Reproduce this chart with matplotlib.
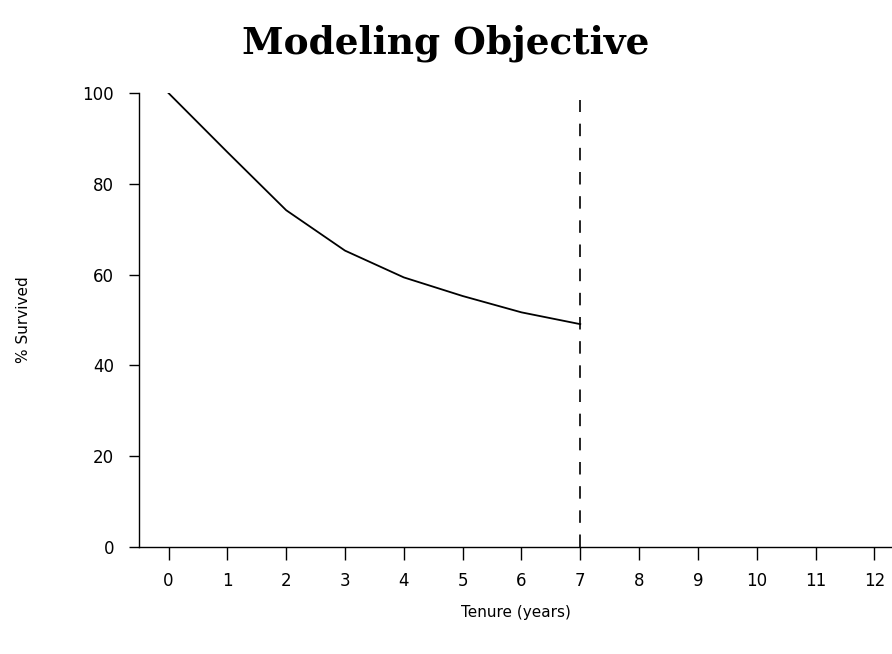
import matplotlib
matplotlib.use("Agg")
import matplotlib.pyplot as plt

# survival curve
tenure = [0, 1, 2, 3, 4, 5, 6, 7]
survived = [100, 87, 74.2, 65.3, 59.4, 55.3, 51.7, 49.1]
xticks = list(range(13))
yticks = [0, 20, 40, 60, 80, 100]
cutoff = 7

fig = plt.figure(figsize=(8.92, 6.54), dpi=100)
ax = fig.add_axes([0.156, 0.1636, 0.844, 0.694])

ax.plot(tenure, survived, color="black", lw=1.3)
ax.plot([cutoff, cutoff], [0, 98.5], color="black", lw=1.2, dashes=(7.5, 7))

ax.set_xlim(-0.5, 12.3)
ax.set_ylim(0, 100)
ax.set_xticks(xticks)
ax.set_yticks(yticks)

for s in ["top", "right"]:
    ax.spines[s].set_visible(False)
ax.spines["left"].set_linewidth(1.0)
ax.spines["bottom"].set_linewidth(1.0)
ax.tick_params(axis="x", length=9, width=1, pad=9, labelsize=12)
ax.tick_params(axis="y", length=7, width=1, pad=11, labelsize=12)

ax.set_xlabel("Tenure (years)", fontsize=11, labelpad=11)
ax.set_ylabel("% Survived", fontsize=11, labelpad=37)
fig.suptitle("Modeling Objective", family="DejaVu Serif", fontweight="bold",
             fontsize=27, y=0.962)

fig.savefig("out.png", dpi=100)
